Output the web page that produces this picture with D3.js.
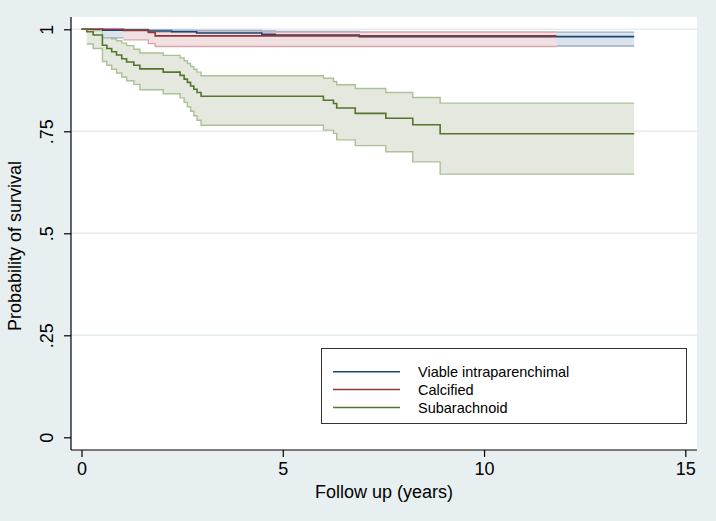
<!DOCTYPE html>
<html><head><meta charset="utf-8">
<script src="https://cdn.jsdelivr.net/npm/d3@7"></script>
<style>
html,body{margin:0;padding:0;background:#e8eff1;}
svg{display:block;font-family:"Liberation Sans",Arial,Helvetica,sans-serif;}
</style></head>
<body><svg id="chart" width="716" height="521"></svg>
<script>
// ---- data ----
const seriesNames = ["Viable intraparenchimal", "Calcified", "Subarachnoid"];
const xTicks = [0, 5, 10, 15];
const yTicks = [0, 0.25, 0.5, 0.75, 1];
const yTickLabels = ["0", ".25", ".5", ".75", "1"];
const yGridTicks = [0.25, 0.5, 0.75, 1];
const xTitle = "Follow up (years)";
const yTitle = "Probability of survival";

const viableTime  = [0, 0.53, 1.66, 2.24, 2.86, 4.48, 4.81, 6.90, 13.73];
const viableSurv  = [1, 0.998, 0.996, 0.994, 0.991, 0.988, 0.986, 0.982, 0.982];
const viableLower = [null, 0.979, 0.975, 0.972, 0.968, 0.964, 0.962, 0.959, 0.959];
const viableUpper = [null, 0.9997, 0.9993, 0.998, 0.997, 0.996, 0.995, 0.993, 0.993];

const calcTime  = [0, 1.04, 1.66, 1.83, 11.8];
const calcSurv  = [1, 0.997, 0.992, 0.984, 0.984];
const calcLower = [null, 0.974, 0.965, 0.958, 0.958];
const calcUpper = [null, 0.9996, 0.998, 0.993, 0.993];

const subTime  = [0, 0.13, 0.29, 0.52, 0.63, 0.75, 0.87, 1.00, 1.12, 1.30, 1.45, 2.03, 2.45, 2.55, 2.63, 2.71, 2.79, 2.87, 2.97, 6.01, 6.26, 6.34, 6.80, 7.56, 8.23, 8.91, 13.73];
const subSurv  = [1, 0.994, 0.986, 0.961, 0.953, 0.945, 0.937, 0.928, 0.920, 0.912, 0.903, 0.895, 0.887, 0.878, 0.870, 0.861, 0.853, 0.845, 0.836, 0.826, 0.818, 0.807, 0.794, 0.782, 0.766, 0.744, 0.744];
const subLower = [null, 0.964, 0.953, 0.921, 0.912, 0.902, 0.893, 0.883, 0.874, 0.865, 0.852, 0.842, 0.832, 0.821, 0.810, 0.799, 0.788, 0.777, 0.765, 0.753, 0.745, 0.729, 0.715, 0.700, 0.675, 0.645, 0.645];
const subUpper = [null, 0.999, 0.997, 0.986, 0.982, 0.977, 0.972, 0.966, 0.960, 0.951, 0.942, 0.936, 0.930, 0.923, 0.916, 0.909, 0.902, 0.895, 0.886, 0.880, 0.872, 0.864, 0.855, 0.845, 0.833, 0.819, 0.819];

const lineColors = ["#1a476f", "#90353b", "#55752f"];
const bandFill   = ["#dce3eb", "#f1e0e2", "#e4e8de"];
const bandEdge   = ["#9bb0c7", "#d8a6ad", "#abc195"];

// ---- layout ----
const svg = d3.select("#chart");
const plot = {left: 71, right: 697, top: 17, bottom: 450};
const x = d3.scaleLinear().domain([0, 15]).range([81.5, 685.3]);
const y = d3.scaleLinear().domain([0, 1]).range([437.3, 29.3]);

svg.append("rect").attr("x", 0).attr("y", 0).attr("width", 716).attr("height", 521).attr("fill", "#e8eff1");
svg.append("rect").attr("x", plot.left).attr("y", plot.top)
  .attr("width", plot.right - plot.left).attr("height", plot.bottom - plot.top).attr("fill", "#ffffff");

// gridlines
svg.append("g").selectAll("line").data(yGridTicks).join("line")
  .attr("x1", plot.left).attr("x2", plot.right)
  .attr("y1", d => y(d)).attr("y2", d => y(d))
  .attr("stroke", "#e3ecef").attr("stroke-width", 1.5);

function build(time, surv, lower, upper) {
  return time.map((t, i) => ({t, s: surv[i], lo: lower[i], hi: upper[i]}));
}
const series = [
  build(viableTime, viableSurv, viableLower, viableUpper),
  build(calcTime, calcSurv, calcLower, calcUpper),
  build(subTime, subSurv, subLower, subUpper)
];

const area = d3.area().curve(d3.curveStepAfter)
  .x(d => x(d.t)).y0(d => y(d.lo)).y1(d => y(d.hi));
const edgeLo = d3.line().curve(d3.curveStepAfter).x(d => x(d.t)).y(d => y(d.lo));
const edgeHi = d3.line().curve(d3.curveStepAfter).x(d => x(d.t)).y(d => y(d.hi));
const kmLine = d3.line().curve(d3.curveStepAfter).x(d => x(d.t)).y(d => y(d.s));

const bandOrder = [2, 0, 1];
const gBands = svg.append("g");
bandOrder.forEach(i => {
  const d = series[i].filter(p => p.lo !== null);
  gBands.append("path").attr("d", area(d)).attr("fill", bandFill[i]).attr("stroke", "none");
  gBands.append("path").attr("d", edgeLo(d)).attr("fill", "none").attr("stroke", bandEdge[i]).attr("stroke-width", 1.4);
  gBands.append("path").attr("d", edgeHi(d)).attr("fill", "none").attr("stroke", bandEdge[i]).attr("stroke-width", 1.4);
});

const gLines = svg.append("g");
[0, 1, 2].forEach(i => {
  gLines.append("path").attr("d", kmLine(series[i])).attr("fill", "none")
    .attr("stroke", lineColors[i]).attr("stroke-width", 1.6);
});

// axes
const axisColor = "#000000";
svg.append("line").attr("x1", plot.left).attr("x2", plot.left).attr("y1", plot.top).attr("y2", plot.bottom)
  .attr("stroke", axisColor).attr("stroke-width", 1.2);
svg.append("line").attr("x1", plot.left).attr("x2", plot.right).attr("y1", plot.bottom).attr("y2", plot.bottom)
  .attr("stroke", axisColor).attr("stroke-width", 1.2);

const yAxis = d3.axisLeft(y).tickValues(yTicks).tickSize(7).tickFormat((d, i) => yTickLabels[i]);
const gy = svg.append("g").attr("transform", `translate(${plot.left},0)`).call(yAxis);
gy.select(".domain").remove();
gy.selectAll(".tick line").attr("stroke", axisColor).attr("stroke-width", 1.2);
gy.selectAll(".tick text").attr("font-size", 18).attr("fill", "#000")
  .attr("text-anchor", "middle").attr("x", 0).attr("y", 0).attr("dy", 0)
  .attr("dominant-baseline", "central")
  .attr("transform", "translate(-24,0) rotate(-90)");

const xAxis = d3.axisBottom(x).tickValues(xTicks).tickSize(7).tickFormat(d3.format("d"));
const gx = svg.append("g").attr("transform", `translate(0,${plot.bottom})`).call(xAxis);
gx.select(".domain").remove();
gx.selectAll(".tick line").attr("stroke", axisColor).attr("stroke-width", 1.2);
gx.selectAll(".tick text").attr("font-size", 18).attr("fill", "#000").attr("y", 12).attr("dy", "0.71em");

svg.append("text").attr("x", 384).attr("y", 498).attr("text-anchor", "middle")
  .attr("font-size", 18).attr("fill", "#000").text(xTitle);
svg.append("text").attr("transform", "translate(15,246) rotate(-90)").attr("text-anchor", "middle")
  .attr("font-size", 18).attr("fill", "#000").attr("dominant-baseline", "central").text(yTitle);

// legend
const lg = svg.append("g");
lg.append("rect").attr("x", 321.5).attr("y", 348.5).attr("width", 365).attr("height", 75)
  .attr("fill", "#ffffff").attr("stroke", "#333333").attr("stroke-width", 1);
const legendY = [371.7, 389.5, 407.5];
seriesNames.forEach((name, i) => {
  lg.append("line").attr("x1", 333).attr("x2", 400).attr("y1", legendY[i]).attr("y2", legendY[i])
    .attr("stroke", lineColors[i]).attr("stroke-width", 1.6);
  lg.append("text").attr("x", 418).attr("y", legendY[i]).attr("dominant-baseline", "central")
    .attr("font-size", 14.5).attr("fill", "#000").text(name);
});
</script>
</body></html>
